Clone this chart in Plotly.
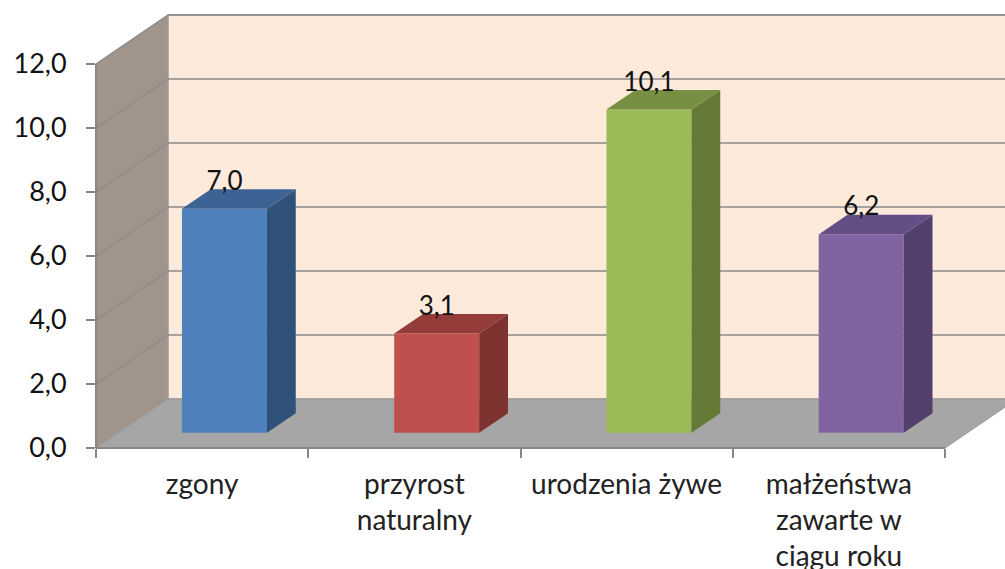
import plotly.graph_objects as go

# ---------------- data ----------------
categories = ["zgony", "przyrost<br>naturalny", "urodzenia żywe",
              "małżeństwa<br>zawarte w<br>ciągu roku"]
values = [7.0, 3.1, 10.1, 6.2]
value_labels = ["7,0", "3,1", "10,1", "6,2"]
y_tickvals = [0, 2, 4, 6, 8, 10, 12]
y_ticktext = ["0,0", "2,0", "4,0", "6,0", "8,0", "10,0", "12,0"]

front_colors = ["#4F81BD", "#C0504D", "#9BBB59", "#8064A2"]
side_colors = ["#30517A", "#7E3230", "#657A37", "#533F6C"]
top_colors = ["#3C6394", "#943C3A", "#778F43", "#654D86"]

# ---------------- geometry (pixels of the 1005x569 page) ----------------
W, H = 1005, 569
PLOT_L, PLOT_R = 96, 945          # front floor edge
Y0_PX, YMAX_PX = 448, 64          # value 0 and value 12 on the front plane
YMAX = 12
n = len(categories)
cat_px = (PLOT_R - PLOT_L) / n
unit_px = (Y0_PX - YMAX_PX) / YMAX
DX = 72 / cat_px                  # full depth offset in data units
DY = 49 / unit_px
F0, FD = 0.31, 0.40               # bar front position and depth (fraction of depth)
BAR_W = 85 / cat_px
LABEL_DROP = 7 / unit_px

x_range = [-0.5 - PLOT_L / cat_px, -0.5 + (W - PLOT_L) / cat_px]
y_range = [-(H - Y0_PX) / unit_px, Y0_PX / unit_px]

x0, x1 = -0.5, n - 0.5
wall_right = x_range[1] + 1

GRID = "#8A8A8A"
AXIS = "#878787"
FONT = "Lato"

shapes = []
# side wall
shapes.append(dict(type="path", xref="x", yref="y", layer="below",
                   path=f"M{x0},{0} L{x0+DX},{DY} L{x0+DX},{YMAX+DY} L{x0},{YMAX} Z",
                   fillcolor="#A1948A", line=dict(color="#9A9A9A", width=1)))
# back wall
shapes.append(dict(type="path", xref="x", yref="y", layer="below",
                   path=f"M{x0+DX},{DY} L{wall_right},{DY} L{wall_right},{YMAX+DY} L{x0+DX},{YMAX+DY} Z",
                   fillcolor="#FDEADB", line=dict(color="#9A9A9A", width=1.5)))
# floor
shapes.append(dict(type="path", xref="x", yref="y", layer="below",
                   path=f"M{x0},0 L{x0+DX},{DY} L{x1+DX},{DY} L{x1},0 Z",
                   fillcolor="#A6A6A6", line=dict(color="#9A9A9A", width=1)))
# gridlines on back and side wall
for v in y_tickvals[1:]:
    shapes.append(dict(type="line", xref="x", yref="y", layer="below",
                       x0=x0 + DX, y0=v + DY, x1=wall_right, y1=v + DY,
                       line=dict(color=GRID, width=1.5)))
    shapes.append(dict(type="line", xref="x", yref="y", layer="below",
                       x0=x0, y0=v, x1=x0 + DX, y1=v + DY,
                       line=dict(color=GRID, width=1.2)))

fig = go.Figure()

# bar front faces
bar_x = [i + F0 * DX for i in range(n)]
fig.add_trace(go.Bar(x=bar_x, y=values, base=F0 * DY, width=BAR_W,
                     marker=dict(color=front_colors, line=dict(width=0)),
                     hoverinfo="skip", showlegend=False))

# side and top faces
for i, v in enumerate(values):
    xl = bar_x[i] - BAR_W / 2
    xr = bar_x[i] + BAR_W / 2
    b = F0 * DY
    t = b + v
    ddx, ddy = FD * DX, FD * DY
    fig.add_trace(go.Scatter(x=[xr, xr + ddx, xr + ddx, xr, xr],
                             y=[b, b + ddy, t + ddy, t, b],
                             fill="toself", fillcolor=side_colors[i], mode="lines",
                             line=dict(width=0), hoverinfo="skip", showlegend=False))
    fig.add_trace(go.Scatter(x=[xl, xr, xr + ddx, xl + ddx, xl],
                             y=[t, t, t + ddy, t + ddy, t],
                             fill="toself", fillcolor=top_colors[i], mode="lines",
                             line=dict(width=0), hoverinfo="skip", showlegend=False))

# data labels
fig.add_trace(go.Scatter(x=bar_x,
                         y=[F0 * DY + v + FD * DY - LABEL_DROP for v in values],
                         mode="text", text=value_labels, textposition="top center",
                         textfont=dict(family=FONT, size=26, color="#111111"),
                         cliponaxis=False, hoverinfo="skip", showlegend=False))

# anchor trace for the visible axes
fig.add_trace(go.Scatter(x=[0], y=[0], xaxis="x2", yaxis="y2", mode="markers",
                         marker=dict(opacity=0), hoverinfo="skip", showlegend=False))

fig.update_layout(
    width=W, height=H,
    margin=dict(l=0, r=0, t=0, b=0, pad=0),
    paper_bgcolor="white", plot_bgcolor="rgba(0,0,0,0)",
    showlegend=False,
    xaxis=dict(domain=[0, 1], range=x_range, visible=False, fixedrange=True,
               automargin=False),
    yaxis=dict(domain=[0, 1], range=y_range, visible=False, fixedrange=True,
               automargin=False),
    xaxis2=dict(domain=[PLOT_L / W, PLOT_R / W], range=[x0, x1],
                anchor="free", position=(H - Y0_PX) / H, automargin=False,
                showline=True, linecolor=AXIS, linewidth=2,
                showgrid=False, zeroline=False,
                tickmode="array", tickvals=list(range(n)), ticktext=categories,
                ticks="", tickangle=0, ticklabelstandoff=11,
                tickfont=dict(family=FONT, size=28, color="#222222"),
                minor=dict(tickmode="linear", tick0=-0.5, dtick=1, ticks="outside",
                           ticklen=9, tickwidth=2, tickcolor=AXIS, showgrid=False),
                fixedrange=True),
    yaxis2=dict(domain=[(H - Y0_PX) / H, (H - YMAX_PX) / H], range=[0, YMAX],
                anchor="free", position=PLOT_L / W, automargin=False,
                showline=True, linecolor=AXIS, linewidth=2,
                showgrid=False, zeroline=False,
                tickmode="array", tickvals=y_tickvals, ticktext=y_ticktext,
                ticks="outside", ticklen=9, tickwidth=2, tickcolor=AXIS,
                ticklabelstandoff=14,
                tickfont=dict(family=FONT, size=27, color="#111111"),
                fixedrange=True),
    shapes=shapes,
)

fig.write_html("out.html", config={"displayModeBar": False},
               post_script="document.body.style.margin='0';")
